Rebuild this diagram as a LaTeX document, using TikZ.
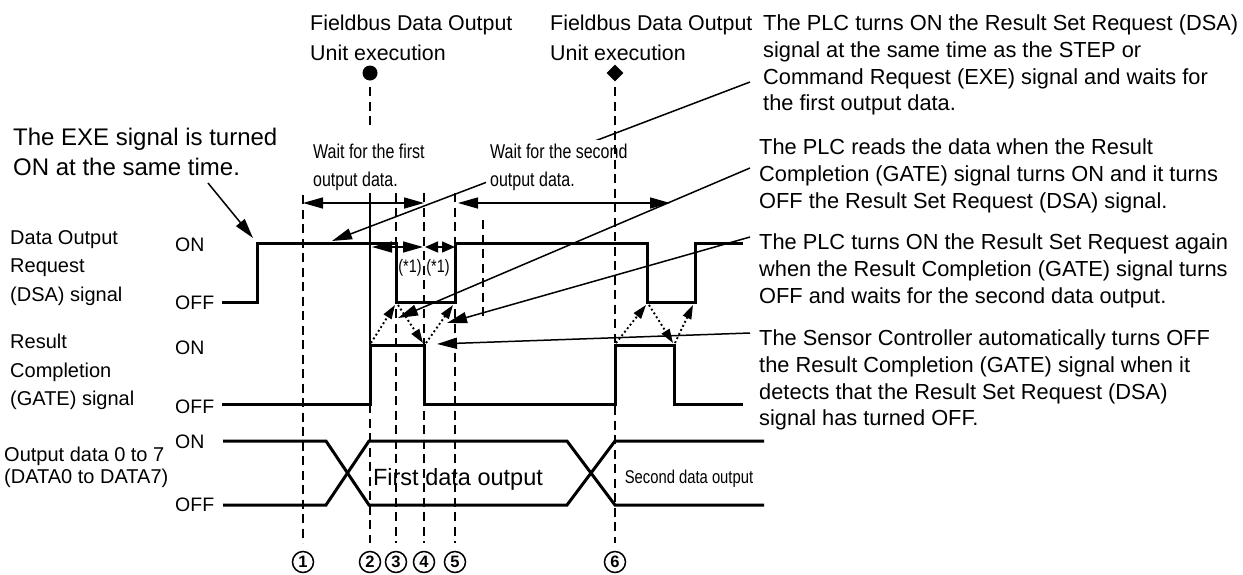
\documentclass[tikz,border=0pt]{standalone}
\usepackage{fontspec}
\setmainfont{Liberation Sans}
\newfontfamily\narrowfont[FakeStretch=0.8]{Liberation Sans}
\usetikzlibrary{arrows.meta,shapes.geometric}

\begin{document}
\begin{tikzpicture}[x=1pt, y=-1pt,
    wave/.style={line width=3pt, line join=miter},
    guide/.style={line width=2.9pt, dash pattern=on 9pt off 5.5pt},
    lead/.style={line width=1.5pt, ->},
    dim/.style={line width=1.5pt, <->},
    dimshort/.style={line width=1.5pt, {Triangle[length=13pt,width=11pt]}-{Triangle[length=13pt,width=11pt]}},
    cause/.style={line width=1.9pt, dash pattern=on 1.9pt off 2.6pt, -{Triangle[length=14pt,width=9pt]}},
    big/.style={font=\fontsize{21.8}{26.7}\selectfont, inner sep=0pt, align=left},
    head/.style={font=\fontsize{21.4}{30}\selectfont, inner sep=0pt, align=left},
    sig/.style={font=\fontsize{20}{28.5}\selectfont, inner sep=0pt, align=left},
    lvl/.style={font=\fontsize{19.5}{20}\selectfont, inner sep=0pt, anchor=west},
    cond/.style={font=\narrowfont\fontsize{20}{28}\selectfont, inner sep=0pt, align=left},
    num/.style={draw, circle, line width=1.5pt, minimum size=21pt, inner sep=0pt, font=\bfseries\fontsize{16.5}{16.5}\selectfont},
    >={Triangle[length=20pt,width=11pt]}]

    \useasboundingbox (0,0) rectangle (1243,574);

    % signal names and levels
    \node[sig, anchor=north west] (dsaname) at (10,230) {Data Output\\Request\\(DSA) signal};
    \node[sig, anchor=north west] (gatename) at (10,334) {Result\\Completion\\(GATE) signal};
    \node[sig, anchor=north west, font=\fontsize{20}{22}\selectfont] (dataname) at (4,447) {Output data 0 to 7\\(DATA0 to DATA7)};
    \node[lvl] (dsaon) at (175,245) {ON};
    \node[lvl] (dsaoff) at (175,303) {OFF};
    \node[lvl] (gateon) at (175,348) {ON};
    \node[lvl] (gateoff) at (175,407) {OFF};
    \node[lvl] (dataon) at (175,442) {ON};
    \node[lvl] (dataoff) at (175,505) {OFF};

    % waveforms
    \draw[wave] (222,302) -- (257,302) -- (257,243) -- (396,243) -- (396,302) -- (455,302) -- (455,243) -- (647,243) -- (647,302) -- (695,302) -- (695,243) -- (743,243);
    \draw[wave] (222,404) -- (370,404) -- (370,345) -- (424,345) -- (424,404) -- (615,404) -- (615,345) -- (674,345) -- (674,404) -- (743,404);
    \draw[wave] (223,441) -- (326,441) -- (369,505) -- (567,505) -- (615,441) -- (764,441);
    \draw[wave] (223,505) -- (326,505) -- (369,441) -- (567,441) -- (615,505) -- (764,505);
    \node[font=\fontsize{23.5}{24}\selectfont, inner sep=0pt, anchor=base] (first) at (458,485) {First data output};
    \node[font=\narrowfont\fontsize{18.5}{19}\selectfont, inner sep=0pt, anchor=base] (second) at (689,483.6) {Second data output};

    % texts
    \node[head, anchor=north west] (unit1) at (310,14.6) {Fieldbus Data Output\\Unit execution};
    \node[head, anchor=north west] (unit2) at (550,14.6) {Fieldbus Data Output\\Unit execution};
    \node[font=\fontsize{24}{30}\selectfont, inner sep=0pt, align=left, anchor=north west] (exe) at (13,127.6) {The EXE signal is turned\\ON at the same time.};
    \node[big, anchor=north west] (ann1) at (763,14.6) {The PLC turns ON the Result Set Request (DSA)\\signal at the same time as the STEP or\\Command Request (EXE) signal and waits for\\the first output data.};
    \node[big, anchor=north west] (ann2) at (759,138.6) {The PLC reads the data when the Result\\Completion (GATE) signal turns ON and it turns\\OFF the Result Set Request (DSA) signal.};
    \node[big, anchor=north west] (ann3) at (759,233.6) {The PLC turns ON the Result Set Request again\\when the Result Completion (GATE) signal turns\\OFF and waits for the second data output.};
    \node[big, anchor=north west] (ann4) at (759,329.6) {The Sensor Controller automatically turns OFF\\the Result Completion (GATE) signal when it\\detects that the Result Set Request (DSA)\\signal has turned OFF.};

    % leaders
    \coordinate (exetail) at (208,183);
    \coordinate (exetip) at (253,238);
    \coordinate (a1) at (750,82);
    \coordinate (a2) at (750,168);
    \coordinate (a3) at (750,237);
    \coordinate (a4) at (750,333);
    \draw[lead] (exetail) -- (exetip);
    \draw[lead] (a1) -- (332,241);
    \draw[lead] (a2) -- (398,318);
    \draw[lead] (a3) -- (447,323);
    \draw[lead] (a4) -- (437,344);

    \node[cond, anchor=north west] (wait1) at (313,144) {Wait for the first\\output data.};
    \node[cond, anchor=north west, inner sep=4pt, fill=white] (wait2) at (486,140) {Wait for the second\\output data.};

    % timing marks
    \node[circle, fill, minimum size=15pt, inner sep=0pt] (mark1) at (370,73) {};
    \node[diamond, fill, minimum size=17pt, inner sep=0pt] (mark2) at (615,73) {};
    \draw[guide] (303,195) -- (303,543);
    \draw[guide] (370,87) -- (370,127);
    \draw[line width=2.9pt] (370,193) -- (370,345);
    \draw[guide] (370,404) -- (370,543);
    \draw[guide] (396,193) -- (396,543);
    \draw[guide] (424,193) -- (424,543);
    \draw[guide] (455,193) -- (455,543);
    \draw[guide] (483,220) -- (483,320);
    \draw[guide] (615,87) -- (615,543);

    % waiting times
    \draw[dim] (303,203) -- (424,203);
    \draw[dim] (458,203) -- (670,203);
    \draw[dim] (372,247) -- (423,247);
    \draw[dimshort] (425,247) -- (455,247);
    \node[font=\narrowfont\fontsize{18}{18}\selectfont, inner sep=0pt] (t1) at (410,268) {(*1)};
    \node[font=\narrowfont\fontsize{18}{18}\selectfont, inner sep=0pt] (t2) at (438,268) {(*1)};

    % handshake
    \draw[cause] (371,343) -- (395,305);
    \draw[cause] (398,305) -- (423,343);
    \draw[cause] (426,343) -- (453,305);
    \draw[cause] (616,343) -- (646,305);
    \draw[cause] (649,305) -- (673,343);
    \draw[cause] (675,343) -- (693,305);

    % step numbers
    \node[num] (n1) at (303,562) {1};
    \node[num] (n2) at (370,562) {2};
    \node[num] (n3) at (396,562) {3};
    \node[num] (n4) at (424,562) {4};
    \node[num] (n5) at (455,562) {5};
    \node[num] (n6) at (615,562) {6};
\end{tikzpicture}
\end{document}
